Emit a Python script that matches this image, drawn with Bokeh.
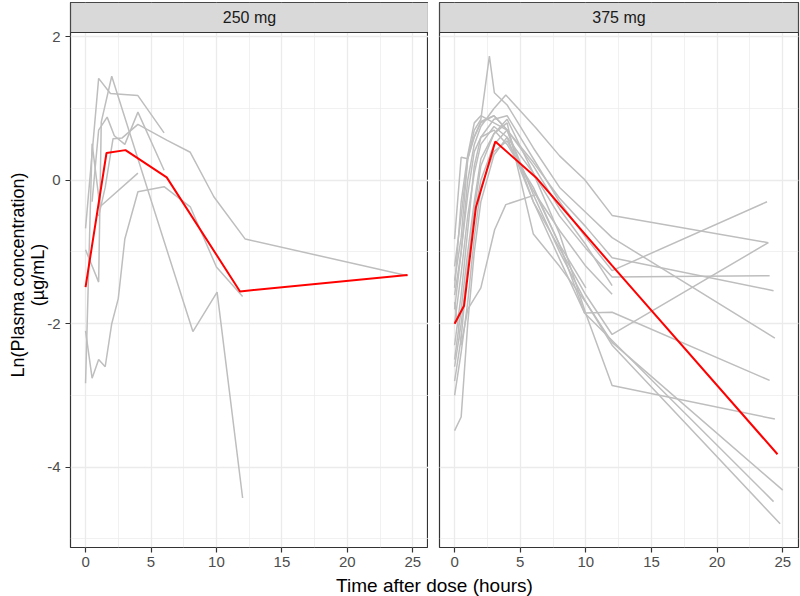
from bokeh.plotting import figure
from bokeh.layouts import column, row
from bokeh.models import Range1d, SingleIntervalTicker, Grid
from bokeh.core.properties import value
from bokeh.embed import file_html
from bokeh.resources import INLINE

FONT = "Liberation Sans"

facet_labels = ["250 mg", "375 mg"]
x_title = "Time after dose (hours)"
y_title = "Ln(Plasma concentration)\n(\u00b5g/mL)"
y_tick_values = [2, 0, -2, -4]
y_tick_labels = ["2", "0", "-2", "-4"]

# ---- 250 mg individual profiles (time h, ln conc) ----
t250_s1 = [0, 1.0, 1.9, 4.0, 6.0]
v250_s1 = [-0.67, 1.42, 1.21, 1.18, 0.66]
t250_s2 = [0, 0.5, 1.0, 1.5, 2.0, 2.5, 3.0, 4.0, 6.0, 8.0, 10.0, 12.0]
v250_s2 = [-2.1, -2.76, -2.5, -2.6, -2.0, -1.65, -0.82, -0.16, -0.09, -0.37, -1.21, -1.62]
t250_s3 = [0, 0.5, 1.1, 4.0]
v250_s3 = [-2.83, 0.51, -0.37, 0.1]
t250_s4 = [0, 1.0, 1.2, 2.0, 4.0, 6.0, 8.2, 10.05, 12.0]
v250_s4 = [-0.97, -1.42, 0.81, 1.45, 0.3, -0.85, -2.11, -1.56, -4.43]
t250_s5 = [0.5, 1.0, 1.65, 2.2, 3.0, 4.0, 6.0]
v250_s5 = [-0.3, 0.7, 0.88, 0.62, 0.5, 0.95, 0.14]
t250_s6 = [1.0, 1.5, 2.1, 2.8, 4.0, 6.2, 8.0, 9.8, 12.2, 24.6]
v250_s6 = [-0.5, -0.1, 0.58, 0.59, 0.78, 0.56, 0.39, -0.23, -0.82, -1.33]

red_t250 = [0, 1.6, 3.05, 6.2, 11.8, 24.6]
red_v250 = [-1.49, 0.38, 0.42, 0.04, -1.55, -1.32]

# ---- 375 mg individual profiles ----
t375_r1 = [0, 0.5, 1.0, 1.5, 2.0, 3.0, 3.9, 6.2, 8.0, 9.9, 12.0, 23.9]
v375_r1 = [-1.6, -1.0, 0.0, 0.5, 0.75, 1.0, 1.19, 0.73, 0.34, 0.01, -0.49, -0.87]
t375_r2 = [0, 0.5, 1.0, 1.5, 2.0, 2.65, 3.03, 4.0, 6.0, 8.0, 10.0, 12.0, 24.4]
v375_r2 = [-1.2, -0.5, 0.3, 0.7, 0.85, 1.73, 1.22, 1.05, 0.45, -0.1, -0.45, -0.80, -2.2]
t375_r3 = [0, 0.5, 1.0, 1.5, 2.0, 3.0, 4.0, 6.0, 8.0, 10.0, 12.0, 24.3]
v375_r3 = [-1.5, -0.3, 0.35, 0.8, 0.9, 0.8, 0.7, 0.25, -0.25, -0.65, -1.08, -1.54]
t375_r4 = [0, 0.5, 1.0, 1.5, 2.0, 3.0, 4.0, 6.0, 8.0, 10.0, 12.0, 24.0]
v375_r4 = [-2.5, -1.8, -1.0, -0.3, 0.3, 0.65, 0.85, 0.1, -0.5, -0.95, -1.35, -1.33]
t375_r5 = [0, 0.5, 1.0, 1.5, 2.0, 3.0, 4.0, 6.0, 8.0, 10.0, 12.0, 23.8]
v375_r5 = [-2.3, -1.6, -0.7, 0.2, 0.6, 0.85, 0.9, 0.3, -0.3, -0.8, -1.26, -0.30]
t375_r6 = [0, 0.5, 1.0, 1.5, 2.0, 3.0, 4.0, 6.0, 8.0, 10.0, 12.0, 23.9]
v375_r6 = [-2.0, -1.3, -0.5, 0.1, 0.5, 0.75, 0.6, -0.3, -0.95, -1.6, -2.15, -0.87]
t375_r7 = [0, 0.5, 1.0, 1.5, 2.0, 3.0, 4.0, 6.0, 8.0, 9.9, 12.0, 24.0]
v375_r7 = [-1.8, -1.0, -0.2, 0.4, 0.6, 0.7, 0.5, -0.1, -0.9, -1.85, -1.84, -2.79]
t375_r8 = [0, 0.5, 1.0, 1.5, 2.0, 3.0, 4.0, 6.0, 8.0, 10.0, 12.0, 24.4]
v375_r8 = [-3.49, -3.3, -2.0, -1.0, -0.3, 0.35, 0.6, 0.1, -0.75, -1.86, -2.86, -3.33]
t375_r9 = [0, 0.5, 1.0, 1.5, 2.0, 3.0, 4.0, 6.0, 8.0, 10.0, 12.0, 25.0]
v375_r9 = [-2.8, -2.2, -1.2, -0.4, 0.2, 0.65, 0.8, -0.75, -1.2, -1.7, -2.26, -4.32]
t375_r10 = [0, 0.5, 1.0, 1.5, 2.0, 3.0, 4.0, 6.0, 8.0, 9.9, 24.3]
v375_r10 = [-1.4, -0.8, 0.3, 0.6, 0.8, 0.9, 0.7, -0.3, -1.1, -1.85, -4.48]
t375_r11 = [0, 0.5, 1.0, 1.4, 2.0, 3.0, 4.0, 6.0, 8.0, 10.0, 12.0, 24.8]
v375_r11 = [-0.82, 0.32, 0.3, 0.57, 0.82, 0.9, 0.7, -0.2, -1.0, -1.7, -2.3, -4.79]
t375_r12 = [0, 0.5, 1.0, 1.5, 2.0, 3.0, 4.0, 6.0, 8.0, 10.0, 12.0]
v375_r12 = [-2.6, -2.0, -1.2, -0.5, 0.0, 0.5, 0.7, 0.2, -0.4, -0.9, -1.47]
t375_r13 = [0, 0.5, 1.0, 1.5, 2.0, 3.0, 4.0, 6.0, 8.0, 10.0, 12.0]
v375_r13 = [-3.0, -2.4, -1.7, -0.8, -0.1, 0.4, 0.55, -0.15, -0.7, -1.2, -1.59]
t375_r14 = [0, 0.5, 1.0, 2.0, 3.05, 3.9, 6.2, 8.0, 10.0]
v375_r14 = [-1.7, -2.3, -1.8, -1.5, -0.69, -0.34, -0.2, -0.9, -1.5]

red_t375 = [0, 0.72, 1.62, 3.1, 6.2, 12.0, 24.6]
red_v375 = [-2.0, -1.75, -0.38, 0.54, 0.04, -1.19, -3.82]

profiles_250 = [(t250_s1, v250_s1), (t250_s2, v250_s2), (t250_s3, v250_s3),
                (t250_s4, v250_s4), (t250_s5, v250_s5), (t250_s6, v250_s6)]
profiles_375 = [(t375_r1, v375_r1), (t375_r2, v375_r2), (t375_r3, v375_r3),
                (t375_r4, v375_r4), (t375_r5, v375_r5), (t375_r6, v375_r6),
                (t375_r7, v375_r7), (t375_r8, v375_r8), (t375_r9, v375_r9),
                (t375_r10, v375_r10), (t375_r11, v375_r11), (t375_r12, v375_r12),
                (t375_r13, v375_r13), (t375_r14, v375_r14)]

LEFT_AREA = 70
FRAME_WL = 358
GAP = 11
FRAME_WR = 359
RIGHT_PAD = 2
TOP_PAD = 2
STRIP_H = 30
PANEL_H = 515
XAXIS_H = 26
XLAB_H = 23
XR = (-1.15, 26.2)
YR = (-5.12, 2.06)
# the strip (facet header) sits on top of the data area inside the same frame
UNITS_PER_PX = (YR[1] - YR[0]) / PANEL_H
STRIP_TOP = YR[1] + STRIP_H * UNITS_PER_PX


def make_panel(label, profiles, red_t, red_v, first):
    p = figure(frame_width=FRAME_WL if first else FRAME_WR, frame_height=PANEL_H + STRIP_H,
               x_range=Range1d(*XR), y_range=Range1d(YR[0], STRIP_TOP),
               output_backend="svg", toolbar_location=None,
               y_axis_location="left" if first else None,
               min_border_left=LEFT_AREA if first else GAP,
               min_border_right=0 if first else RIGHT_PAD,
               min_border_top=TOP_PAD, min_border_bottom=XAXIS_H)
    p.background_fill_color = "white"
    p.border_fill_color = "white"
    p.outline_line_color = "#333333"
    p.outline_line_width = 1.2

    xt = SingleIntervalTicker(interval=5, num_minor_ticks=2)
    yt = SingleIntervalTicker(interval=2, num_minor_ticks=2)
    p.xaxis.ticker = xt
    for g in p.xgrid:
        g.ticker = xt
    if first:
        p.yaxis.ticker = yt
        for g in p.ygrid:
            g.ticker = yt
    else:
        if len(p.ygrid) == 0:
            p.add_layout(Grid(dimension=1, ticker=yt), "center")
        else:
            for g in p.ygrid:
                g.ticker = yt

    for g in list(p.xgrid) + list(p.ygrid):
        g.grid_line_color = "#EBEBEB"
        g.grid_line_width = 1.3
        g.minor_grid_line_color = "#EBEBEB"
        g.minor_grid_line_width = 0.7

    for ax in list(p.xaxis) + list(p.yaxis):
        ax.axis_line_color = None
        ax.major_tick_line_color = "#333333"
        ax.major_tick_line_width = 1.2
        ax.major_tick_out = 5
        ax.major_tick_in = 0
        ax.minor_tick_line_color = None
        ax.major_label_text_font = FONT
        ax.major_label_text_font_size = "15px"
        ax.major_label_text_color = "#4D4D4D"
        ax.major_label_standoff = 4

    if first:
        p.yaxis.major_label_overrides = {v: s for v, s in zip(y_tick_values, y_tick_labels)}
        p.yaxis.major_label_standoff = 5
        p.yaxis.axis_label = y_title
        p.yaxis.axis_label_text_font = FONT
        p.yaxis.axis_label_text_font_size = "18px"
        p.yaxis.axis_label_text_font_style = "normal"
        p.yaxis.axis_label_text_color = "black"
        p.yaxis.axis_label_text_line_height = 1.0
        p.yaxis.axis_label_standoff = -4

    for t, v in profiles:
        p.line(t, v, line_color="#BEBEBE", line_width=1.5)
    p.line(red_t, red_v, line_color="#FF0000", line_width=2)

    # facet strip
    p.quad(left=[XR[0]], right=[XR[1]], bottom=[YR[1]], top=[STRIP_TOP],
           fill_color="#D9D9D9", line_color="#333333", line_width=1.2)
    p.text(x=[(XR[0] + XR[1]) / 2], y=[(YR[1] + STRIP_TOP) / 2], text=[label],
           text_align="center", text_baseline="middle", text_font=value(FONT),
           text_font_size="16px", text_color="#1A1A1A")
    return p


panel_l = make_panel(facet_labels[0], profiles_250, red_t250, red_v250, True)
panel_r = make_panel(facet_labels[1], profiles_375, red_t375, red_v375, False)

total_w = LEFT_AREA + FRAME_WL + GAP + FRAME_WR + RIGHT_PAD
xlab = figure(width=total_w, height=XLAB_H, x_range=Range1d(0, total_w), y_range=Range1d(0, XLAB_H),
              output_backend="svg", toolbar_location=None,
              x_axis_location=None, y_axis_location=None,
              min_border=0)
xlab.outline_line_color = None
xlab.background_fill_color = "white"
for g in xlab.grid:
    g.visible = False
xlab.text(x=[LEFT_AREA + (FRAME_WL + GAP + FRAME_WR) / 2], y=[XLAB_H / 2], text=[x_title],
          text_align="center", text_baseline="middle", text_font=value(FONT),
          text_font_size="19px", text_color="black")

layout = column(row(panel_l, panel_r), xlab)

open("out.html", "w").write(file_html(layout, INLINE))
